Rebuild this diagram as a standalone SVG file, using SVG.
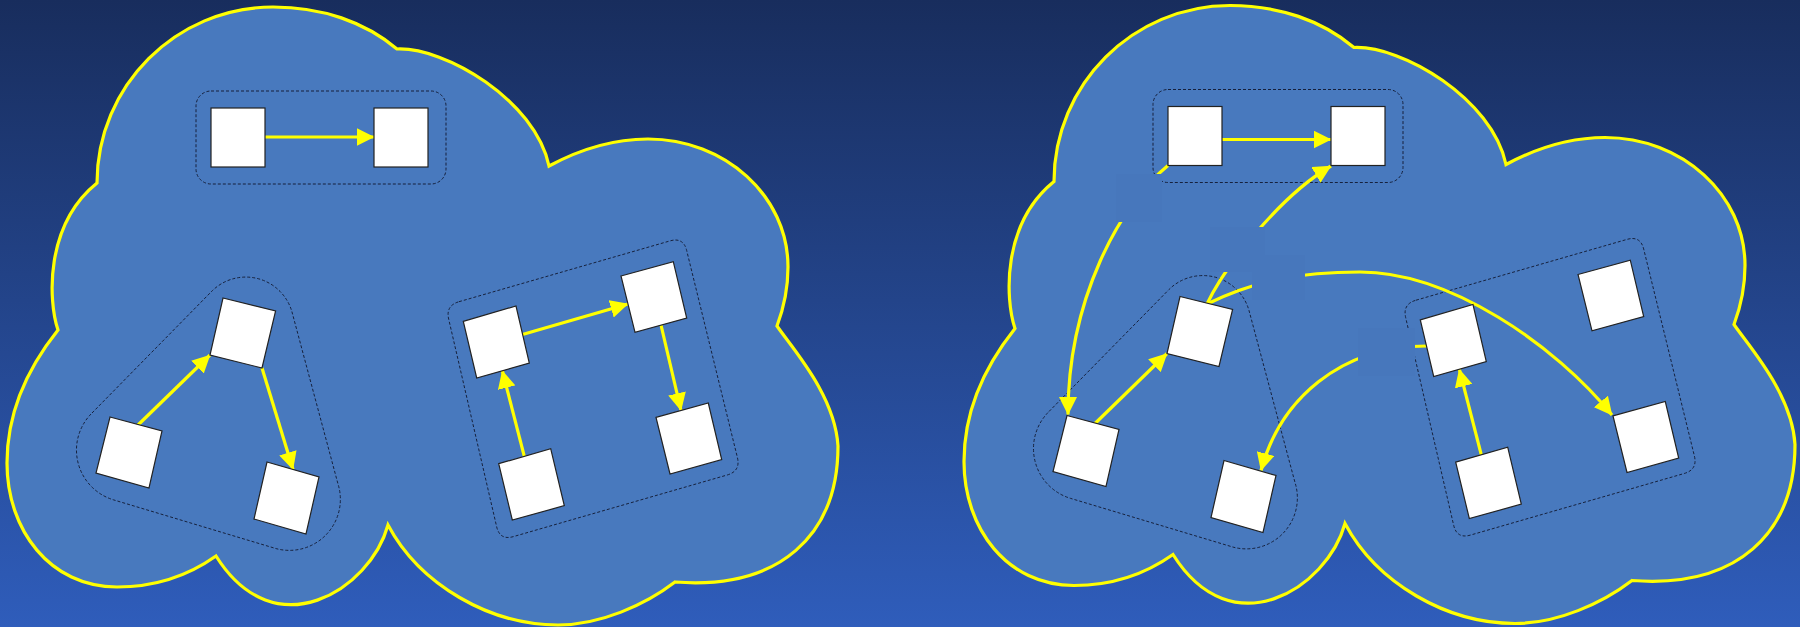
<svg xmlns="http://www.w3.org/2000/svg" width="1800" height="627" viewBox="0 0 1800 627">
<defs>
<linearGradient id="bg" x1="0" y1="0" x2="0" y2="1">
<stop offset="0" stop-color="#182d5d"/>
<stop offset="1" stop-color="#2f5dbb"/>
</linearGradient>
<marker id="ah" markerUnits="userSpaceOnUse" markerWidth="18" markerHeight="18" viewBox="0 0 18 18" refX="17.5" refY="9" orient="auto">
<path d="M0,0 L18,9 L0,18 Z" fill="#ffff00"/>
</marker>
<path id="cloudShape" d="M97,183 C97,86 176,7 273,7 C322,7 365,22 397,49 C445,47 535,100 549,166 C575,152 610,139 648,139 C725,139 788,196 788,267 C788,290 783,310 777,326 C792,348 835,395 838,446 C838,535 780,590 675,582 C645,605 600,625 558,625 C490,625 420,585 388,525 C370,590 275,650 216,556 C185,578 150,587 117,587 C50,587 7,530 7,463 C7,410 30,365 58,330 C48,300 45,225 97,183 Z"/>
<path id="triHull" d="M92,413 L212,291 A48,48 0 0 1 292,312 L338,484 A51,51 0 0 1 274,548 L114,500 A52,52 0 0 1 92,413 Z"/>
<path id="sqHull" d="M459,301.7 L670,240.9 Q683.4,237 686.7,250.6 L737.4,457.5 Q740.7,471.1 727.2,475 L513.4,536.6 Q499.9,540.5 496.7,526.9 L448.7,319.2 Q445.5,305.6 459,301.7 Z"/>
</defs>
<style>
.cloud{fill:#4879be;stroke:#ffff00;stroke-width:3.2}
.grp{fill:none;stroke:#16213d;stroke-width:1;stroke-dasharray:3 2}
.node{fill:#ffffff;stroke:#222222;stroke-width:1.2}
.edge{fill:none;stroke:#ffff00;stroke-width:3.2}
.arr{marker-end:url(#ah)}
.mask{fill:#4777bc;stroke:none}
</style>
<rect x="0" y="0" width="1800" height="627" fill="url(#bg)"/>

<g id="cloud-left">
<use href="#cloudShape" class="cloud"/>
<g id="left-groups">
<rect class="grp" x="196" y="91" width="250" height="93" rx="15"/>
<use href="#triHull" class="grp"/>
<use href="#sqHull" class="grp"/>
</g>
<g id="left-connectors">
<path class="edge arr" d="M265,137 L374,137"/>
<path class="edge arr" d="M138,425 L210,355"/>
<path class="edge arr" d="M262,368 L293,469.5"/>
<path class="edge arr" d="M522.5,334.5 L628,304"/>
<path class="edge arr" d="M661,325 L681,410.5"/>
<path class="edge arr" d="M524.3,456.3 L502.3,370.7"/>
</g>
<g id="L-n1"><rect class="node" x="211" y="108" width="54" height="59"/></g>
<g id="L-n2"><rect class="node" x="374" y="108" width="54" height="59"/></g>
<g id="L-a"><polygon class="node" points="110,417 162,431 149,488 96,473"/></g>
<g id="L-b"><polygon class="node" points="223,298 275.6,311 262,368 210,355"/></g>
<g id="L-c"><polygon class="node" points="267,462 319,477 306,534 254,519"/></g>
<g id="L-d"><polygon class="node" points="463.3,321.3 516,306 529.3,363 476.7,378"/></g>
<g id="L-e"><polygon class="node" points="621,276 673.3,261.7 686.7,318 635,332.3"/></g>
<g id="L-f"><polygon class="node" points="656,417.3 708.3,403 721.7,459.7 670,474"/></g>
<g id="L-g"><polygon class="node" points="498.7,463.7 550.7,448.7 564.3,505.7 512.3,520"/></g>
</g>

<g id="cloud-right" transform="translate(957,-1.5)">
<use href="#cloudShape" class="cloud"/>
<g id="right-groups">
<rect class="grp" x="196" y="91" width="250" height="93" rx="15"/>
<use href="#triHull" class="grp"/>
<use href="#sqHull" class="grp"/>
</g>
<g id="right-connectors">
<path class="edge arr" d="M265,141 L374,141"/>
<path class="edge arr" d="M138,425 L210,355"/>
<path class="edge arr" d="M524.3,456.3 L502.3,370.7"/>
<path class="edge arr" d="M211,167 C163,206 111,301 111,416"/>
<path class="edge arr" d="M250,305.5 C268,267.5 323,197.5 374,167.5"/>
<path class="edge arr" d="M250,305.5 C300,281.5 343,273.5 403,273.5 C493,273.5 598,346.5 655,416.5"/>
<path class="edge arr" d="M470,347.5 C383,347.5 323,401.5 304,472"/>
</g>
<g id="right-masks">
<rect class="mask" x="159" y="175.5" width="46" height="48"/>
<rect class="mask" x="253" y="228.5" width="55" height="45"/>
<rect class="mask" x="295" y="256.5" width="53" height="45"/>
<rect class="mask" x="401" y="329.5" width="57" height="48"/>
</g>
<g id="R-n1"><rect class="node" x="211" y="108" width="54" height="59"/></g>
<g id="R-n2"><rect class="node" x="374" y="108" width="54" height="59"/></g>
<g id="R-a"><polygon class="node" points="110,417 162,431 149,488 96,473"/></g>
<g id="R-b"><polygon class="node" points="223,298 275.6,311 262,368 210,355"/></g>
<g id="R-c"><polygon class="node" points="267,462 319,477 306,534 254,519"/></g>
<g id="R-d"><polygon class="node" points="463.3,321.3 516,306 529.3,363 476.7,378"/></g>
<g id="R-e"><polygon class="node" points="621,276 673.3,261.7 686.7,318 635,332.3"/></g>
<g id="R-f"><polygon class="node" points="656,417.3 708.3,403 721.7,459.7 670,474"/></g>
<g id="R-g"><polygon class="node" points="498.7,463.7 550.7,448.7 564.3,505.7 512.3,520"/></g>
</g>
</svg>
